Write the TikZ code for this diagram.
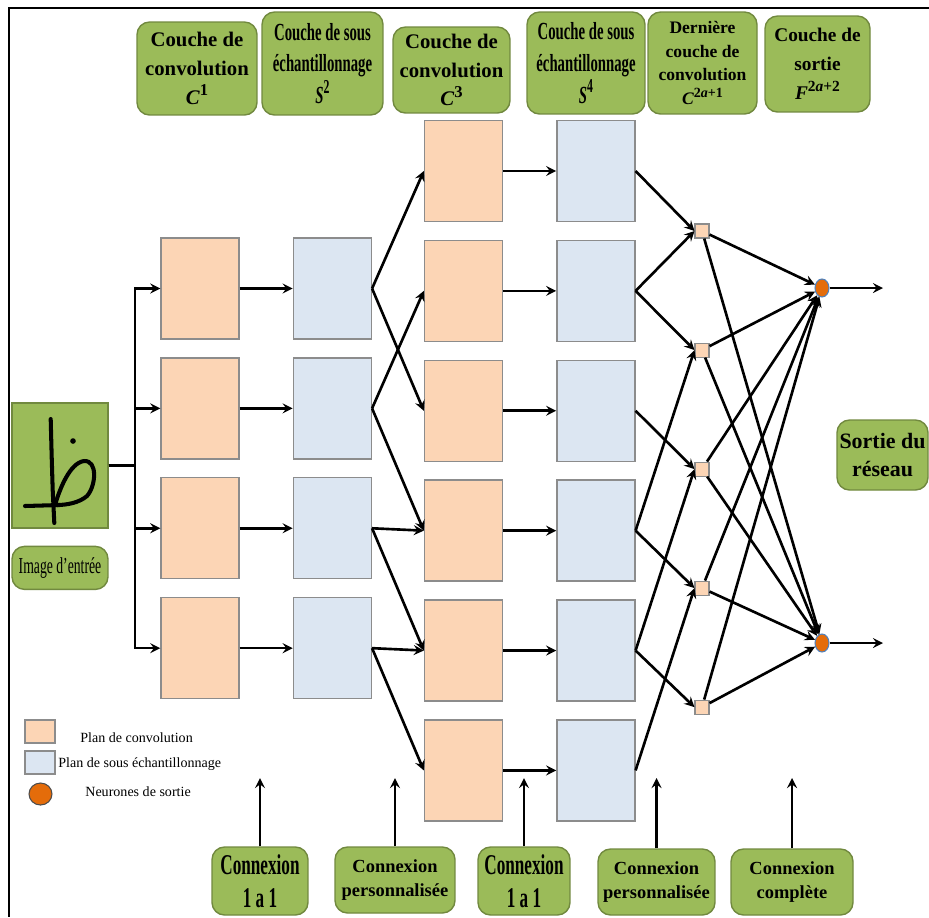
\documentclass[tikz,border=0pt]{standalone}
\usepackage{fontspec}
\setmainfont{Liberation Serif}
\newfontfamily\narrowfont[FakeStretch=0.6]{Liberation Serif}
\usetikzlibrary{shapes.geometric, arrows, positioning}
\definecolor{planfill}{HTML}{FCD5B5}
\definecolor{sousfill}{HTML}{DCE6F2}
\definecolor{planline}{HTML}{8C8C8C}
\definecolor{vert}{HTML}{9BBB59}
\definecolor{vertline}{HTML}{71893F}
\definecolor{neurfill}{HTML}{E46C0A}
\definecolor{neurline}{HTML}{4F81BD}
\tikzset{
  plan/.style={rectangle, draw=planline, line width=0.8pt, fill=planfill, minimum width=1.56cm, minimum height=2.02cm},
  sous/.style={plan, fill=sousfill},
  conv/.style={rectangle, draw=planline, line width=0.6pt, fill=planfill, minimum size=0.28cm, inner sep=0pt},
  neur/.style={ellipse, draw=neurline, line width=0.6pt, fill=neurfill, minimum width=0.28cm, minimum height=0.36cm, inner sep=0pt},
  etiq/.style={rectangle, rounded corners=0.25cm, draw=vertline, line width=0.8pt, fill=vert, align=center, inner sep=1pt},
  grand/.style={font=\fontsize{11.8}{16.4}\selectfont\bfseries},
  etroit/.style={font=\narrowfont\fontsize{14}{18}\selectfont\bfseries},
  connex/.style={font=\narrowfont\fontsize{16.3}{19}\selectfont\bfseries},
  petit/.style={font=\fontsize{10.5}{13.6}\selectfont\bfseries}
}
\tikzstyle{arrow} = [line width=1.5pt,black,->,>=stealth]
\newcommand{\couche}[2]{\textbf{\textit{#1}}\raisebox{0.42em}{\scalebox{0.8}{\bfseries #2}}}

\begin{document}
\begin{tikzpicture}[x=0.02cm,y=-0.02cm]
    \useasboundingbox (0,0) rectangle (929,917);
    \draw [line width=1.2pt] (929,8) -- (9,8) -- (9,917);
    % titres des couches
    \node [etiq, grand, minimum width=2.4cm, minimum height=1.86cm] (t1) at (197,68.5) {Couche de\\convolution\\\couche{C}{1}};
    \node [etiq, etroit, minimum width=2.42cm, minimum height=2.06cm] (t2) at (322.5,63.5) {Couche de sous\\échantillonnage\\\couche{S}{2}};
    \node [etiq, grand, minimum width=2.34cm, minimum height=1.72cm] (t3) at (451.5,70) {Couche de\\convolution\\\couche{C}{3}};
    \node [etiq, etroit, minimum width=2.36cm, minimum height=2.04cm] (t4) at (586,63) {Couche de sous\\échantillonnage\\\couche{S}{4}};
    \node [etiq, font=\fontsize{10}{13.6}\selectfont\bfseries, minimum width=2.18cm, minimum height=2.04cm] (t5) at (702.5,63) {Dernière\\couche de\\convolution\\\couche{C}{2\textit{a}+1}};
    \node [etiq, font=\fontsize{11}{16.4}\selectfont\bfseries, minimum width=2.1cm, minimum height=1.92cm] (t6) at (817.5,64) {Couche de\\sortie\\\couche{F}{2\textit{a}+2}};
    % image d'entree
    \node [etiq, rounded corners=0pt, minimum width=1.92cm, minimum height=2.5cm] (img) at (60,465.5) {};
    \draw [line width=2.3pt, line cap=round] (50.7,419) -- (51.7,457) -- (52.7,490) -- (54.3,523);
    \draw [line width=2.3pt, line cap=round] (25,506) -- (60,505);
    \draw [line width=2.3pt, line cap=round, line join=round] (55,505) .. controls (60,488) and (70,463) .. (84,461) .. controls (98,460) and (96,486) .. (87,496) .. controls (79,503) and (66,505) .. (57,505);
    \fill (73,441) circle (1.6pt);
    \node [etiq, font=\narrowfont\fontsize{13}{15}\selectfont, minimum width=1.92cm, minimum height=0.86cm] (imgl) [below=0.34cm of img] {Image d’entrée};
    % couche C1 et S2
    \node [plan] (c1a) at (200,288.5) {};
    \node [plan] (c1b) [below=0.35cm of c1a] {};
    \node [plan] (c1c) [below=0.35cm of c1b] {};
    \node [plan] (c1d) [below=0.35cm of c1c] {};
    \node [sous] (s2a) [right=1.06cm of c1a] {};
    \node [sous] (s2b) [right=1.06cm of c1b] {};
    \node [sous] (s2c) [right=1.06cm of c1c] {};
    \node [sous] (s2d) [right=1.06cm of c1d] {};
    % couche C3 et S4
    \node [plan] (c3a) at (463.5,171) {};
    \node [plan] (c3b) [below=0.35cm of c3a] {};
    \node [plan] (c3c) [below=0.35cm of c3b] {};
    \node [plan] (c3d) [below=0.35cm of c3c] {};
    \node [plan] (c3e) [below=0.35cm of c3d] {};
    \node [plan] (c3f) [below=0.35cm of c3e] {};
    \node [sous] (s4a) [right=1.06cm of c3a] {};
    \node [sous] (s4b) [right=1.06cm of c3b] {};
    \node [sous] (s4c) [right=1.06cm of c3c] {};
    \node [sous] (s4d) [right=1.06cm of c3d] {};
    \node [sous] (s4e) [right=1.06cm of c3e] {};
    \node [sous] (s4f) [right=1.06cm of c3f] {};
    % derniere convolution et sortie
    \node [conv] (q1) at (702,231) {};
    \node [conv] (q2) [below=2.08cm of q1] {};
    \node [conv] (q3) [below=2.08cm of q2] {};
    \node [conv] (q4) [below=2.08cm of q3] {};
    \node [conv] (q5) [below=2.08cm of q4] {};
    \node [neur] (n1) at (822,288) {};
    \node [neur] (n2) at (822,643) {};
    \node [etiq, font=\fontsize{12.5}{15.5}\selectfont\bfseries, minimum width=1.82cm, minimum height=1.4cm] (res) at (882.5,455) {Sortie du\\réseau};
    \coordinate (f1) at (883,288);
    \coordinate (f2) at (883,643);
    \coordinate (t) at (135,465.5);
    % connexions
    \draw [arrow] (img) -- (t) |- (c1a);
    \draw [arrow] (img) -- (t) |- (c1b);
    \draw [arrow] (img) -- (t) |- (c1c);
    \draw [arrow] (img) -- (t) |- (c1d);
    \draw [arrow] (c1a) -- (s2a);
    \draw [arrow] (c1b) -- (s2b);
    \draw [arrow] (c1c) -- (s2c);
    \draw [arrow] (c1d) -- (s2d);
    \draw [arrow] (s2a.east) -- (c3a.west);
    \draw [arrow] (s2a.east) -- (c3c.west);
    \draw [arrow] (s2b.east) -- (c3b.west);
    \draw [arrow] (s2b.east) -- (c3d.west);
    \draw [arrow] (s2c.east) -- (c3d.west);
    \draw [arrow] (s2c.east) -- (c3e.west);
    \draw [arrow] (s2d.east) -- (c3e.west);
    \draw [arrow] (s2d.east) -- (c3f.west);
    \draw [arrow] (c3a) -- (s4a);
    \draw [arrow] (c3b) -- (s4b);
    \draw [arrow] (c3c) -- (s4c);
    \draw [arrow] (c3d) -- (s4d);
    \draw [arrow] (c3e) -- (s4e);
    \draw [arrow] (c3f) -- (s4f);
    \draw [arrow] (s4a.east) -- (q1.west);
    \draw [arrow] (s4b.east) -- (q1.west);
    \draw [arrow] (s4b.east) -- (q2.west);
    \draw [arrow] (s4c.east) -- (q3.west);
    \draw [arrow] (s4d.east) -- (q2.west);
    \draw [arrow] (s4d.east) -- (q4.west);
    \draw [arrow] (s4e.east) -- (q3.west);
    \draw [arrow] (s4e.east) -- (q5.west);
    \draw [arrow] (s4f.east) -- (q4.west);
    \draw [arrow] (q1) -- (n1);
    \draw [arrow] (q1) -- (n2);
    \draw [arrow] (q2) -- (n1);
    \draw [arrow] (q2) -- (n2);
    \draw [arrow] (q3) -- (n1);
    \draw [arrow] (q3) -- (n2);
    \draw [arrow] (q4) -- (n1);
    \draw [arrow] (q4) -- (n2);
    \draw [arrow] (q5) -- (n1);
    \draw [arrow] (q5) -- (n2);
    \draw [arrow] (n1) -- (f1);
    \draw [arrow] (n2) -- (f2);
    % legende
    \node [plan, minimum width=0.6cm, minimum height=0.46cm] (lp) at (40,731.5) {};
    \node [sous, minimum width=0.6cm, minimum height=0.46cm] (ls) at (40,762.5) {};
    \node [neur, draw=black!70, minimum width=0.46cm, minimum height=0.44cm] (ln) at (40.5,794) {};
    \node [anchor=west, inner sep=0pt, font=\fontsize{8}{9}\selectfont] (lpt) at (80,738) {Plan de convolution};
    \node [anchor=west, inner sep=0pt, font=\fontsize{8}{9}\selectfont] (lst) at (58,764) {Plan de sous échantillonnage};
    \node [anchor=west, inner sep=0pt, font=\fontsize{8}{9}\selectfont] (lnt) at (85,792) {Neurones de sortie};
    % types de connexion
    \node [etiq, connex, minimum width=1.92cm, minimum height=1.36cm] (b1) at (260,881) {Connexion\\1 a 1};
    \node [etiq, petit, minimum width=2.4cm, minimum height=1.32cm] (b2) at (395,880) {Connexion\\personnalisée};
    \node [etiq, connex, minimum width=1.84cm, minimum height=1.36cm] (b3) at (524,881) {Connexion\\1 a 1};
    \node [etiq, petit, minimum width=2.34cm, minimum height=1.32cm] (b4) at (656.5,882) {Connexion\\personnalisée};
    \node [etiq, petit, minimum width=2.44cm, minimum height=1.32cm] (b5) at (792,882) {Connexion\\complète};
    \coordinate (u1) at (260,778);
    \coordinate (u2) at (395,778);
    \coordinate (u3) at (524,778);
    \coordinate (u4) at (656.5,778);
    \coordinate (u5) at (792,778);
    \draw [arrow] (b1) -- (u1);
    \draw [arrow] (b2) -- (u2);
    \draw [arrow] (b3) -- (u3);
    \draw [arrow] (b4) -- (u4);
    \draw [arrow] (b5) -- (u5);
\end{tikzpicture}
\end{document}
